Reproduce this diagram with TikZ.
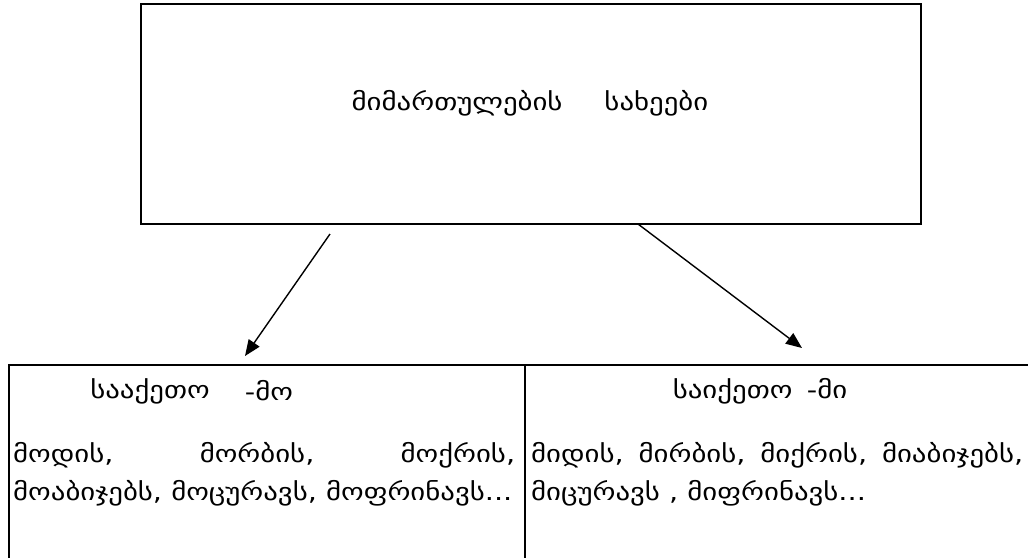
\documentclass[tikz,border=0pt]{standalone}
\usepackage{fontspec}
\setmainfont{DejaVu Sans}
\newfontfamily\geo[FakeStretch=1.2]{DejaVu Sans}
\usetikzlibrary{arrows.meta}
\begin{document}
\begin{tikzpicture}[x=1pt,y=-1pt,
  boxline/.style={line width=1.4pt},
  conn/.style={line width=1.4pt,-{Triangle[length=16pt,width=13pt]}},
  txt/.style={inner sep=0pt,font=\geo\fontsize{24}{28}\selectfont}]
\useasboundingbox (0,0) rectangle (1028,557);
\fill[white] (0,0) rectangle (1028,557);
% boxes
\node[boxline,draw,minimum width=780,minimum height=220,inner sep=0pt] (top) at (531,114) {};
\draw[boxline] (9,600) -- (9,365) -- (1040,365);
\draw[boxline] (525,365) -- (525,600);
% texts
\node[txt] (title) at (530,103) {მიმართულების\hspace{42pt}სახეები};
\node[txt] (lh1) at (150,391) {სააქეთო};
\node[txt] (lh2) at (269,391) {-მო};
\node[txt,anchor=west] (l1) at (13,455) {\hbox to 502pt{მოდის,\hfill მორბის,\hfill მოქრის,}};
\node[txt,anchor=west] (l2) at (13,493) {მოაბიჯებს, მოცურავს, მოფრინავს...};
\node[txt] (rh) at (760,391) {საიქეთო\hspace{0.6em}-მი};
\node[txt,anchor=west] (r1) at (531,455) {\hbox to 492pt{მიდის,\hfill მირბის,\hfill მიქრის,\hfill მიაბიჯებს,}};
\node[txt,anchor=west] (r2) at (531,493) {მიცურავს , მიფრინავს...};
% arrows
\coordinate (a1s) at (330,234);
\coordinate (a1e) at (245,356);
\coordinate (a2s) at (638,224);
\coordinate (a2e) at (802,348);
\draw[conn] (a1s) -- (a1e);
\draw[conn] (a2s) -- (a2e);
\end{tikzpicture}
\end{document}
